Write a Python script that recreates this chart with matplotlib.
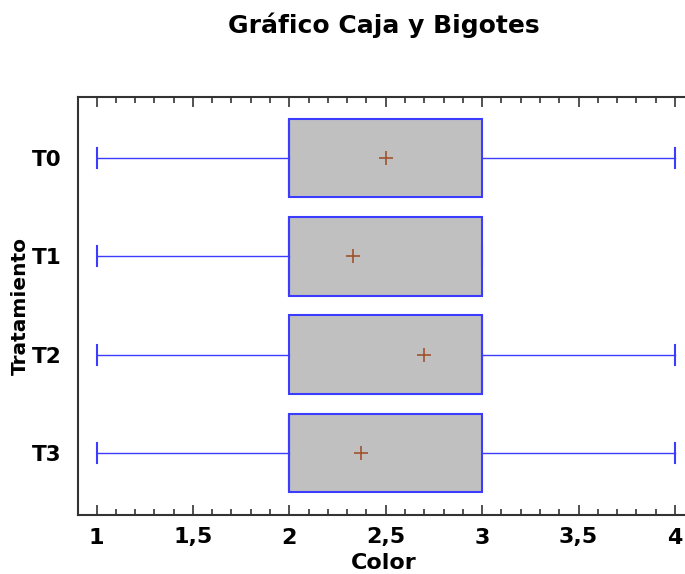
import matplotlib
matplotlib.use("Agg")
import matplotlib.pyplot as plt
from matplotlib.ticker import MultipleLocator, FuncFormatter

# Box-and-whisker stats
tratamientos = ["T0", "T1", "T2", "T3"]
minimo = [1.0, 1.0, 1.0, 1.0]
q1 = [2.0, 2.0, 2.0, 2.0]
mediana = [2.0, 2.0, 3.0, 2.0]
q3 = [3.0, 3.0, 3.0, 3.0]
maximo = [4.0, 3.0, 4.0, 4.0]
media = [2.5, 2.33, 2.7, 2.37]

stats = []
for i, name in enumerate(tratamientos):
    stats.append({
        "label": name,
        "whislo": minimo[i],
        "q1": q1[i],
        "med": mediana[i],
        "q3": q3[i],
        "whishi": maximo[i],
        "mean": media[i],
        "fliers": [],
    })

plt.rcParams["font.family"] = ["DejaVu Sans"]
plt.rcParams["font.weight"] = "bold"

fig = plt.figure(figsize=(6.85, 5.74), dpi=100)
ax = fig.add_axes([78 / 685, 59 / 574, 612 / 685, 418 / 574])

blue = "#3c3cff"
ax.bxp(stats, positions=range(len(tratamientos)), widths=0.8, capwidths=0.2,
       orientation="horizontal", patch_artist=True, showmeans=True,
       boxprops=dict(facecolor="#c0c0c0", edgecolor=blue, linewidth=1.5),
       whiskerprops=dict(color=blue, linewidth=1.0),
       capprops=dict(color=blue, linewidth=1.5),
       medianprops=dict(color=blue, linewidth=1.5),
       meanprops=dict(marker="+", markeredgecolor="#a0522d", markersize=10,
                      markeredgewidth=1.2))

ax.set_xlim(0.904, 4.078)
ax.set_ylim(3.63, -0.62)

ax.xaxis.set_major_locator(MultipleLocator(0.5))
ax.xaxis.set_minor_locator(MultipleLocator(0.1))
ax.xaxis.set_major_formatter(FuncFormatter(lambda v, p: f"{v:g}".replace(".", ",")))
ax.tick_params(axis="x", which="both", direction="in", top=True, bottom=True,
               color="#333333", width=1.2, labelsize=16, pad=9)
ax.tick_params(axis="x", which="major", length=7)
ax.tick_params(axis="x", which="minor", length=4)
ax.tick_params(axis="y", which="both", length=0, labelsize=15.5, pad=12)

for side in ["left", "top", "bottom"]:
    ax.spines[side].set_color("#333333")
    ax.spines[side].set_linewidth(1.5)
ax.spines["right"].set_visible(False)

ax.set_xlabel("Color", fontsize=16, fontweight="bold", labelpad=4)
ax.set_ylabel("Tratamiento", fontsize=14.5, fontweight="bold")
ax.yaxis.set_label_coords(-48 / 612, 0.5)

fig.suptitle("Gráfico Caja y Bigotes", fontsize=18, fontweight="bold",
             x=384 / 685, y=1 - 12 / 574, va="top")

fig.savefig("out.png", dpi=100)
plt.close(fig)
